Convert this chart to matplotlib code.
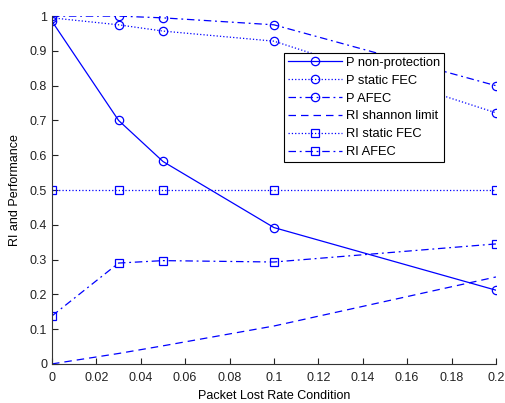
import matplotlib
matplotlib.use("Agg")
import matplotlib.pyplot as plt
import numpy as np

plt.rcParams["font.family"] = ["Liberation Sans", "DejaVu Sans"]

loss_rate = [0, 0.03, 0.05, 0.1, 0.2]

p_non_protection = [0.985, 0.70, 0.582, 0.392, 0.212]
p_static_fec = [0.995, 0.975, 0.957, 0.928, 0.722]
p_afec = [1.0, 1.0, 0.995, 0.975, 0.80]
ri_shannon = [0.0, 0.03, 0.052, 0.109, 0.25]
ri_static_fec = [0.5, 0.5, 0.5, 0.5, 0.5]
ri_afec = [0.138, 0.29, 0.297, 0.293, 0.345]

x_ticks = [0, 0.02, 0.04, 0.06, 0.08, 0.1, 0.12, 0.14, 0.16, 0.18, 0.2]
x_ticklabels = ["0", "0.02", "0.04", "0.06", "0.08", "0.1", "0.12", "0.14", "0.16", "0.18", "0.2"]
y_ticks = [0, 0.1, 0.2, 0.3, 0.4, 0.5, 0.6, 0.7, 0.8, 0.9, 1.0]
y_ticklabels = ["0", "0.1", "0.2", "0.3", "0.4", "0.5", "0.6", "0.7", "0.8", "0.9", "1"]

blue = "#0000ff"
dashdot = (0, (6, 3, 1.5, 3))

fig = plt.figure(figsize=(5.05, 4.03), dpi=100)
ax = fig.add_axes([0.103, 0.097, 0.879, 0.863])

mk = dict(color=blue, lw=0.9, ms=6, mfc="none", mew=0.9)
ax.plot(loss_rate, p_non_protection, "-", marker="o", label="P non-protection", **mk)
ax.plot(loss_rate, p_static_fec, ":", marker="o", label="P static FEC", **mk)
ax.plot(loss_rate, p_afec, linestyle=dashdot, marker="o", label="P AFEC", **mk)
ax.plot(loss_rate, ri_shannon, linestyle=(0, (6, 4)), color=blue, lw=0.9,
        label="RI shannon limit")
ax.plot(loss_rate, ri_static_fec, ":", marker="s", label="RI static FEC", **mk)
ax.plot(loss_rate, ri_afec, linestyle=dashdot, marker="s", label="RI AFEC", **mk)

ax.set_xlim(0, 0.2)
ax.set_ylim(0, 1)
ax.set_xticks(x_ticks)
ax.set_xticklabels(x_ticklabels)
ax.set_yticks(y_ticks)
ax.set_yticklabels(y_ticklabels)
ax.tick_params(direction="in", length=4, labelsize=9, colors="#222222")
ax.tick_params(axis="x", pad=6)
for side in ["top", "right"]:
    ax.spines[side].set_visible(False)
for side in ["left", "bottom"]:
    ax.spines[side].set_color("#333333")

ax.set_xlabel("Packet Lost Rate Condition", fontsize=9, labelpad=4)
ax.set_ylabel("RI and Performance", fontsize=9, labelpad=6)

leg = ax.legend(loc="upper left", bbox_to_anchor=(0.523, 0.894), fontsize=9.3,
                fancybox=False, framealpha=1, edgecolor="black",
                handlelength=4.2, borderpad=0.3, labelspacing=0.45,
                handletextpad=0.3, borderaxespad=0)
leg.get_frame().set_linewidth(0.8)

fig.savefig("out.png", dpi=100)
